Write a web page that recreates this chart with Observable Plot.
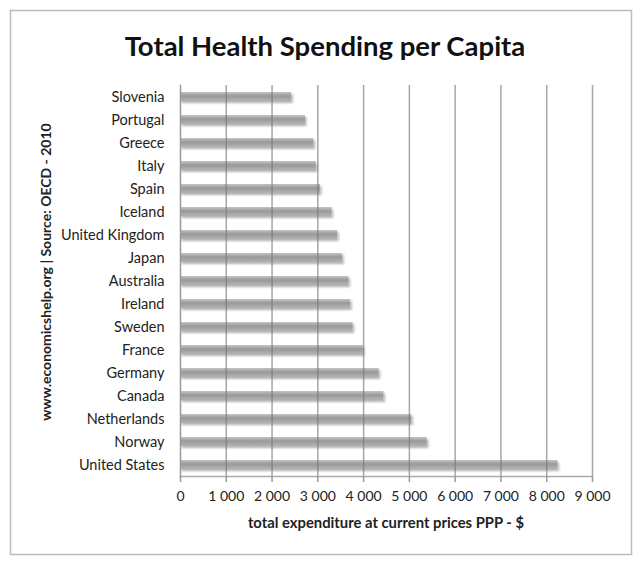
<!DOCTYPE html>
<html>
<head>
<meta charset="utf-8">
<script src="https://cdn.jsdelivr.net/npm/d3@7"></script>
<script src="https://cdn.jsdelivr.net/npm/@observablehq/plot@0.6"></script>
<style>
  html, body { margin: 0; padding: 0; background: #fff; }
</style>
</head>
<body>
<div id="chart"></div>
<script>
const countries = ["Slovenia","Portugal","Greece","Italy","Spain","Iceland","United Kingdom","Japan","Australia","Ireland","Sweden","France","Germany","Canada","Netherlands","Norway","United States"];
const spending = [2430, 2730, 2915, 2965, 3060, 3310, 3435, 3545, 3680, 3720, 3770, 3995, 4340, 4445, 5055, 5390, 8245];
const xTicks = [0,1000,2000,3000,4000,5000,6000,7000,8000,9000];
const titleText = "Total Health Spending per Capita";
const xLabel = "total expenditure at current prices PPP - $";
const sourceText = "www.economicshelp.org | Source: OECD - 2010";

const data = countries.map((c, i) => ({country: c, value: spending[i]}));
const fmt = d => d3.format(",")(d).replace(/,/g, " ");

const W = 641, H = 566, mt = 85, mb = 90, ml = 180, mr = 49;

const chart = Plot.plot({
  width: W, height: H,
  marginTop: mt, marginBottom: mb, marginLeft: ml, marginRight: mr,
  style: {fontFamily: "Lato, 'Open Sans', sans-serif", fontSize: "14.5px", color: "#222", background: "#fff", overflow: "visible"},
  x: {domain: [0, 9000], label: null},
  y: {domain: countries, paddingInner: 0.6, paddingOuter: 0.3, label: null},
  marks: [
    Plot.barX(data, {x: "value", y: "country", fill: "url(#barGrad)"}),
    Plot.gridX(xTicks.slice(1), {stroke: "#777", strokeOpacity: 0.65, strokeWidth: 1.5}),
    Plot.frame({anchor: "left", stroke: "#999", strokeWidth: 1.5}),
    Plot.frame({anchor: "bottom", stroke: "#aaa", strokeWidth: 1.5}),
    Plot.axisX({ticks: xTicks, tickFormat: fmt, tickSize: 6, tickPadding: 9, stroke: "#999", strokeWidth: 1.5, label: null, fill: "#222", fontSize: 14}),
    Plot.axisY({tickSize: 0, tickPadding: 16, label: null, fill: "#222", fontSize: 14.5})
  ]
});

document.getElementById("chart").appendChild(chart);

const svg = d3.select(chart);
const defs = svg.insert("defs", ":first-child");
const g = defs.append("linearGradient").attr("id", "barGrad").attr("x1", 0).attr("y1", 0).attr("x2", 0).attr("y2", 1);
g.append("stop").attr("offset", "0%").attr("stop-color", "#c4c4c4");
g.append("stop").attr("offset", "45%").attr("stop-color", "#999");
g.append("stop").attr("offset", "100%").attr("stop-color", "#b3b3b3");
const f = defs.append("filter").attr("id", "barShadow").attr("x", "-5%").attr("y", "-50%").attr("width", "110%").attr("height", "220%");
f.append("feDropShadow").attr("dx", 1.5).attr("dy", 2).attr("stdDeviation", 1.2).attr("flood-color", "#000").attr("flood-opacity", 0.3);
svg.selectAll("rect").filter(function() { return this.getAttribute("fill") === "url(#barGrad)" || (this.parentNode && this.parentNode.getAttribute("fill") === "url(#barGrad)"); }).attr("filter", "url(#barShadow)");

svg.append("rect").attr("x", 10.5).attr("y", 10.5).attr("width", 621).attr("height", 544)
  .attr("fill", "none").attr("stroke", "#bbb").attr("stroke-width", 1.5);

svg.append("text").attr("x", 325).attr("y", 56).attr("text-anchor", "middle")
  .attr("font-size", 27.5).attr("font-weight", "bold").attr("fill", "#111").text(titleText);

svg.append("text").attr("x", 386).attr("y", 528).attr("text-anchor", "middle")
  .attr("font-size", 14.8).attr("font-weight", "bold").attr("fill", "#222").text(xLabel);

svg.append("text").attr("transform", "translate(51,272) rotate(-90)").attr("text-anchor", "middle")
  .attr("font-size", 14).attr("font-weight", "bold").attr("fill", "#222").text(sourceText);
</script>
</body>
</html>
